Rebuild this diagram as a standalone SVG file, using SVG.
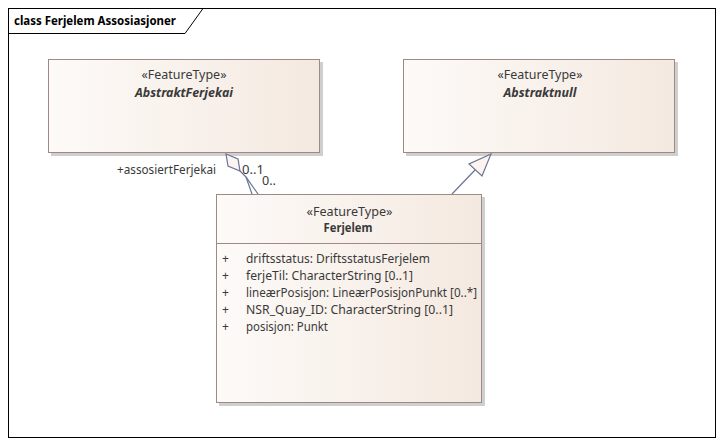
<svg xmlns="http://www.w3.org/2000/svg" width="726" height="446" viewBox="0 0 726 446">
<defs>
<linearGradient id="g" x1="0" y1="0" x2="1" y2="0">
<stop offset="0" stop-color="#fdfaf8"/>
<stop offset="1" stop-color="#f4e9e0"/>
</linearGradient>
<style>
text{font-family:"Noto Sans","Liberation Sans",sans-serif;font-size:12px;fill:#3a3a3a}
.t{font-weight:bold;fill:#000}
.n{font-weight:bold;text-anchor:middle}
.ni{font-weight:bold;font-style:italic;text-anchor:middle}
.s{text-anchor:middle}
.box{fill:url(#g);stroke:#9e8a85;stroke-width:1}
.sh{fill:#cfcfcf}
.c{fill:none;stroke:#6a7594;stroke-width:1.2}
.h{fill:#fbf4ef;stroke:#6a7594;stroke-width:1.2}
</style>
</defs>
<rect x="0" y="0" width="726" height="446" fill="#fff"/>
<g id="frame">
<rect x="8.5" y="8.5" width="707" height="429" fill="none" stroke="#000"/>
<path d="M8.5,33.5 H185 L203,8.5" fill="none" stroke="#000"/>
<text class="t" x="14" y="25" textLength="162" lengthAdjust="spacingAndGlyphs">class Ferjelem Assosiasjoner</text>
</g>
<g id="AbstraktFerjekai">
<rect class="sh" x="51" y="62" width="272" height="94"/>
<rect class="box" x="48.5" y="59.5" width="271" height="93"/>
<text class="s" x="184" y="79" textLength="85" lengthAdjust="spacingAndGlyphs">«FeatureType»</text>
<text class="ni" x="184" y="97" textLength="98" lengthAdjust="spacingAndGlyphs">AbstraktFerjekai</text>
</g>
<g id="Abstraktnull">
<rect class="sh" x="406" y="62" width="272" height="94"/>
<rect class="box" x="403.5" y="59.5" width="271" height="93"/>
<text class="s" x="540" y="79" textLength="85" lengthAdjust="spacingAndGlyphs">«FeatureType»</text>
<text class="ni" x="540" y="97" textLength="73" lengthAdjust="spacingAndGlyphs">Abstraktnull</text>
</g>
<g id="Ferjelem">
<rect class="sh" x="219" y="197" width="266" height="209"/>
<rect class="box" x="216.5" y="194.5" width="265" height="208"/>
<line x1="216.5" y1="243.5" x2="481.5" y2="243.5" stroke="#9e8a85"/>
<text class="s" x="349.5" y="216" textLength="86" lengthAdjust="spacingAndGlyphs">«FeatureType»</text>
<text class="n" x="348" y="232" textLength="49" lengthAdjust="spacingAndGlyphs">Ferjelem</text>
<text x="222" y="263">+</text>
<text x="222" y="280">+</text>
<text x="222" y="297">+</text>
<text x="222" y="314">+</text>
<text x="222" y="331">+</text>
<text x="246" y="263" textLength="184" lengthAdjust="spacingAndGlyphs">driftsstatus: DriftsstatusFerjelem</text>
<text x="246" y="280" textLength="167" lengthAdjust="spacingAndGlyphs">ferjeTil: CharacterString [0..1]</text>
<text x="246" y="297" textLength="231" lengthAdjust="spacingAndGlyphs">lineærPosisjon: LineærPosisjonPunkt [0..*]</text>
<text x="246" y="314" textLength="207" lengthAdjust="spacingAndGlyphs">NSR_Quay_ID: CharacterString [0..1]</text>
<text x="246" y="331" textLength="82" lengthAdjust="spacingAndGlyphs">posisjon: Punkt</text>
</g>
<g id="connectors">
<polyline class="c" points="258,194 246,177 240,171"/>
<line class="c" x1="246" y1="177" x2="252" y2="194"/>
<polygon class="h" points="226,154 238,159 240,171 228,166"/>
<text x="117" y="174" textLength="99" lengthAdjust="spacingAndGlyphs">+assosiertFerjekai</text>
<text x="242" y="174" textLength="22" lengthAdjust="spacingAndGlyphs">0..1</text>
<text x="262" y="185" textLength="14" lengthAdjust="spacingAndGlyphs">0..</text>
<line class="c" x1="452" y1="194" x2="475" y2="170"/>
<polygon class="h" points="491,154 469,164 482,176"/>
</g>
</svg>
